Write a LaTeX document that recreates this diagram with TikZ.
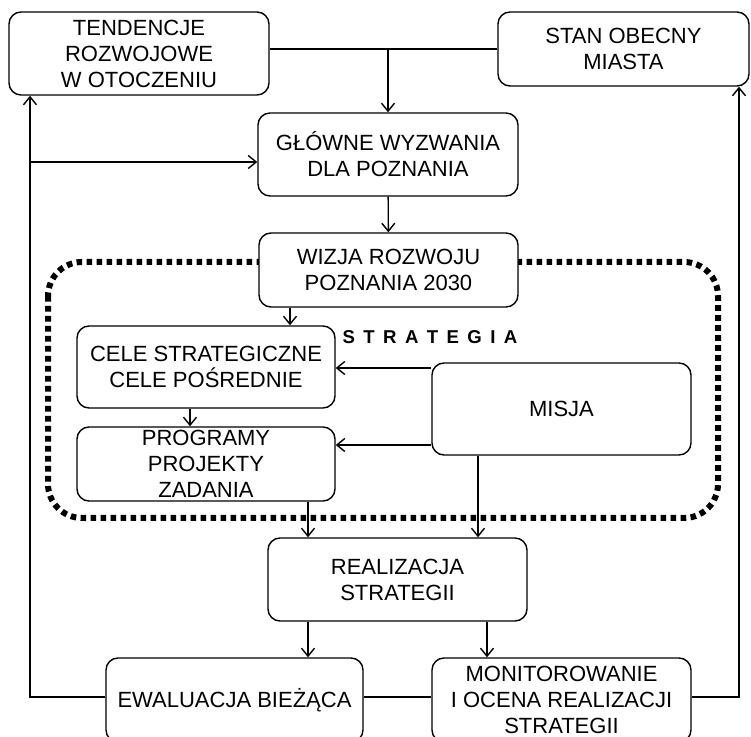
\documentclass[tikz,border=0pt]{standalone}
\usepackage{fontspec}
\setmainfont{Liberation Sans}
\usetikzlibrary{arrows.meta}
\begin{document}
\begin{tikzpicture}[x=0.5pt,y=-0.5pt,
  box/.style={draw, line width=0.7pt, rounded corners=6pt, fill=white,
    align=center, inner sep=0pt, font=\fontsize{11}{13}\selectfont},
  link/.style={line width=0.7pt},
  arr/.style={link, -{Straight Barb[length=4pt,width=6.5pt]}},
  frame/.style={line width=3pt, dash pattern=on 2.8pt off 2.2pt, rounded corners=17pt},
  title/.style={font=\fontsize{9.3}{11}\selectfont\bfseries}]
\useasboundingbox (0,0) rectangle (751,737);

% strategy frame (behind the boxes)
\draw[frame] (48,262) rectangle (718,518);

% boxes
\node[box, minimum width=130pt, minimum height=41.5pt] (tend) at (139,53.5)
  {TENDENCJE\\ROZWOJOWE\\W OTOCZENIU};
\node[box, minimum width=125.5pt, minimum height=37pt] (stan) at (623.5,49)
  {STAN OBECNY\\MIASTA};
\node[box, minimum width=130pt, minimum height=41.5pt] (glowne) at (388,154.5)
  {GŁÓWNE WYZWANIA\\DLA POZNANIA};
\node[box, minimum width=129.5pt, minimum height=37pt] (wizja) at (388.5,270)
  {WIZJA ROZWOJU\\POZNANIA 2030};
\node[box, minimum width=129pt, minimum height=41pt] (cele) at (206,367)
  {CELE STRATEGICZNE\\CELE POŚREDNIE};
\node[box, minimum width=129pt, minimum height=37pt] (prog) at (206,464)
  {PROGRAMY\\PROJEKTY\\ZADANIA};
\node[box, minimum width=129.5pt, minimum height=46pt] (misja) at (561.5,409)
  {MISJA};
\node[box, minimum width=129.5pt, minimum height=41.5pt] (real) at (397.5,579.5)
  {REALIZACJA\\STRATEGII};
\node[box, minimum width=128.5pt, minimum height=42pt] (ewal) at (234.5,700)
  {EWALUACJA BIEŻĄCA};
\node[box, minimum width=129.5pt, minimum height=42pt] (monit) at (561.5,700)
  {MONITOROWANIE\\I OCENA REALIZACJI\\STRATEGII};

\node[title] (strat) at (430,337)
  {\spaceskip=4.2pt\relax S T R A T E G I A};

% guide coordinates for connector positions
\coordinate (xl) at (30,0);
\coordinate (xr) at (739,0);
\coordinate (xa) at (290,0);
\coordinate (xp) at (190,0);
\coordinate (xb) at (308,0);
\coordinate (xc) at (478,0);
\coordinate (xd) at (487,0);
\coordinate (yg) at (0,162);
\coordinate (ym1) at (0,368);
\coordinate (ym2) at (0,445);
\coordinate (yb) at (0,697);

% top: inputs into the main challenges
\draw[link] (tend.east |- stan.west) -- (stan.west);
\draw[arr] (glowne.north |- stan.west) -- (glowne.north);
\draw[arr] (glowne) -- (wizja);
\draw[arr] (xa |- wizja.south) -- (xa |- cele.north);
\draw[arr] (xp |- cele.south) -- (xp |- prog.north);

% mission feeds goals and programmes
\draw[arr] (misja.west |- ym1) -- (cele.east |- ym1);
\draw[arr] (misja.west |- ym2) -- (prog.east |- ym2);

% implementation
\draw[arr] (xb |- prog.south) -- (xb |- real.north);
\draw[arr] (xc |- misja.south) -- (xc |- real.north);
\draw[arr] (xb |- real.south) -- (xb |- ewal.north);
\draw[arr] (xd |- real.south) -- (xd |- monit.north);

% feedback loops
\draw[link] (ewal.east |- yb) -- (monit.west |- yb);
\draw[arr] (ewal.west |- yb) -- (xl |- yb) -- (xl |- tend.south);
\draw[arr] (xl |- yg) -- (glowne.west |- yg);
\draw[arr] (monit.east |- yb) -- (xr |- yb) -- (xr |- stan.south);
\end{tikzpicture}
\end{document}
